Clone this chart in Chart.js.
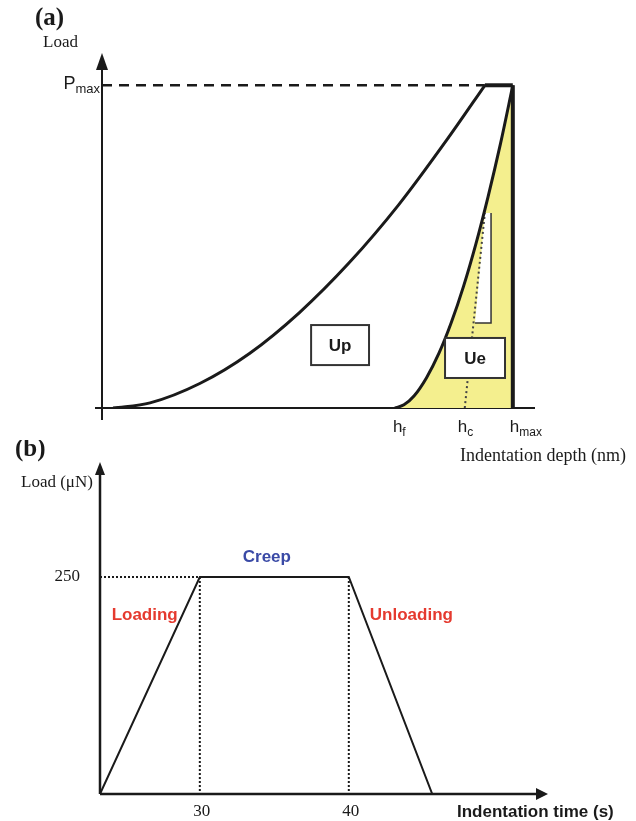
<!DOCTYPE html>
<html>
<head>
<meta charset="utf-8">
<script src="https://cdn.jsdelivr.net/npm/chart.js@4.4.0/dist/chart.umd.min.js"></script>
<style>
  body { margin: 0; background: #fff; width: 636px; height: 821px; overflow: hidden; position: relative; }
  canvas { position: absolute; left: 0; }
  #chartA { top: 0; }
  #chartB { top: 440px; }
</style>
</head>
<body>
<canvas id="chartA" width="636" height="470"></canvas>
<canvas id="chartB" width="636" height="381"></canvas>
<script>
// ── (a) data: depth in % of h_max, load in % of Pmax ──────────
const loadDepth   = [2.7, 11.7, 23.8, 35.9, 48.0, 60.1, 72.3, 84.4, 93.2];
const loadLoad    = [0, 1.6, 7.6, 16.9, 29.5, 44.9, 63.1, 83.9, 100];
const holdDepth   = [93.2, 100];
const holdLoad    = [100, 100];
const unloadDepth = [100, 97, 94, 91, 88, 85, 82, 79, 76, 73.5, 71.3];
const unloadLoad  = [100, 81.9, 65.6, 50.8, 37.7, 26.4, 16.9, 9.4, 3.8, 1.0, 0];
const tangentDepth = [88.3, 93.2];
const tangentLoad  = [0, 60.4];
const depthMarks  = [71.3, 88.3, 100];
const depthLabels = ['f', 'c', 'max'];   // subscripts of h
const pMax = 100;

// ── (b) data: load schedule ──────────────────────────────────
const timeVals   = [23.3, 30, 40, 45.6];
const loadVals   = [0, 250, 250, 0];
const timeTicks  = [30, 40];
const loadTicks  = [250];
const phaseNames = ['Loading', 'Creep', 'Unloading'];
const phaseTime  = [26.3, 34.5, 44.2];
const phaseLoad  = [206, 273, 206];
const phaseColor = ['#e53a2f', '#3a4aa6', '#e53a2f'];

const pts = (xs, ys) => xs.map((x, i) => ({ x, y: ys[i] }));
const SERIF = '"Liberation Serif", "DejaVu Serif", serif';
const SANS  = '"Liberation Sans", Arial, sans-serif';
const INK = '#1a1a1a';

function subText(ctx, base, sub, x, y, size, subSize, align) {
  ctx.font = `${size}px ${SANS}`;
  const bw = ctx.measureText(base).width;
  ctx.font = `${subSize}px ${SANS}`;
  const sw = ctx.measureText(sub).width;
  const x0 = align === 'right' ? x - bw - sw : x;
  ctx.textAlign = 'left';
  ctx.textBaseline = 'alphabetic';
  ctx.font = `${size}px ${SANS}`;
  ctx.fillText(base, x0, y);
  ctx.font = `${subSize}px ${SANS}`;
  ctx.fillText(sub, x0 + bw, y + 4);
}

function arrow(ctx, tx, ty, dir, len, half) {
  ctx.beginPath();
  ctx.moveTo(tx, ty);
  if (dir === 'up') { ctx.lineTo(tx - half, ty + len); ctx.lineTo(tx + half, ty + len); }
  else { ctx.lineTo(tx - len, ty - half); ctx.lineTo(tx - len, ty + half); }
  ctx.closePath();
  ctx.fill();
}

// ── (a) Load–depth chart ─────────────────────────────────────
const panelA = {
  id: 'panelA',
  beforeDatasetsDraw(chart) {
    const { ctx, scales: { x, y } } = chart;
    const x0 = x.getPixelForValue(0), y0 = y.getPixelForValue(0);
    ctx.save();
    ctx.strokeStyle = INK; ctx.fillStyle = INK;
    ctx.lineWidth = 2;
    ctx.beginPath(); ctx.moveTo(x0 - 7, y0); ctx.lineTo(x.right, y0); ctx.stroke();
    ctx.beginPath(); ctx.moveTo(x0, y0 + 12); ctx.lineTo(x0, y.top + 10); ctx.stroke();
    arrow(ctx, x0, y.top, 'up', 17, 6);
    ctx.restore();
  },
  afterDatasetDraw(chart, args) {
    if (args.index !== 0) return;
    // white sliver cut out of the elastic area
    const { ctx, scales: { x, y } } = chart;
    const sx = [93.2, 94.7, 94.7, 90.8], sy = [60.4, 60.4, 26.3, 26.3];
    ctx.save();
    ctx.fillStyle = '#fff';
    ctx.beginPath();
    sx.forEach((v, i) => ctx[i ? 'lineTo' : 'moveTo'](x.getPixelForValue(v), y.getPixelForValue(sy[i])));
    ctx.closePath(); ctx.fill();
    ctx.strokeStyle = '#333'; ctx.lineWidth = 1.5;
    ctx.beginPath();
    ctx.moveTo(x.getPixelForValue(sx[1]), y.getPixelForValue(sy[1]));
    ctx.lineTo(x.getPixelForValue(sx[2]), y.getPixelForValue(sy[2]));
    ctx.lineTo(x.getPixelForValue(sx[3]), y.getPixelForValue(sy[3]));
    ctx.stroke();
    ctx.restore();
  },
  afterDraw(chart) {
    const { ctx, scales: { x, y } } = chart;
    ctx.save();
    ctx.fillStyle = INK;
    // energy boxes
    [['Up', 50.9, 65.0, 25.7, 13.3], ['Ue', 83.5, 98.1, 21.7, 9.3]].forEach(([t, a, b, c, d]) => {
      const l = x.getPixelForValue(a), r = x.getPixelForValue(b);
      const tp = y.getPixelForValue(c), bt = y.getPixelForValue(d);
      ctx.fillStyle = '#fff'; ctx.fillRect(l, tp, r - l, bt - tp);
      ctx.strokeStyle = '#333'; ctx.lineWidth = 2; ctx.strokeRect(l, tp, r - l, bt - tp);
      ctx.fillStyle = INK; ctx.font = `bold 17px ${SANS}`;
      ctx.textAlign = 'center'; ctx.textBaseline = 'middle';
      ctx.fillText(t, (l + r) / 2, (tp + bt) / 2 + 1);
    });
    // labels
    ctx.textBaseline = 'alphabetic'; ctx.textAlign = 'left';
    ctx.font = `bold 25px ${SERIF}`;
    ctx.fillText('(a)', 35, 25);
    ctx.font = `17px ${SERIF}`;
    ctx.fillText('Load', 43, 47);
    subText(ctx, 'P', 'max', x.getPixelForValue(0) - 2, y.getPixelForValue(pMax) + 4, 18, 13, 'right');
    const offs = [-2, -7, -3];
    depthMarks.forEach((d, i) => subText(ctx, 'h', depthLabels[i], x.getPixelForValue(d) + offs[i], 432, 17, 12, 'left'));
    ctx.font = `18px ${SERIF}`;
    ctx.fillText('Indentation depth (nm)', 460, 461);
    ctx.restore();
  }
};

new Chart(document.getElementById('chartA'), {
  type: 'scatter',
  data: {
    datasets: [
      { // elastic area under the unloading curve
        data: pts(unloadDepth, unloadLoad), showLine: true, fill: 'origin',
        backgroundColor: '#f4ef8e', borderWidth: 0, pointRadius: 0,
        cubicInterpolationMode: 'monotone', order: 9 },
      { data: pts(tangentDepth, tangentLoad), showLine: true, borderColor: '#444',
        borderWidth: 2, borderDash: [2, 3], pointRadius: 0, order: 8 },
      { data: pts(unloadDepth, unloadLoad), showLine: true, borderColor: INK,
        borderWidth: 3, pointRadius: 0, cubicInterpolationMode: 'monotone', order: 3 },
      { data: pts(loadDepth, loadLoad), showLine: true, borderColor: INK,
        borderWidth: 3, pointRadius: 0, cubicInterpolationMode: 'monotone', order: 2 },
      { data: pts(holdDepth, holdLoad), showLine: true, borderColor: INK,
        borderWidth: 4, pointRadius: 0, order: 1 },
      { data: pts([100, 100], [100, 0]), showLine: true, borderColor: INK,
        borderWidth: 4, pointRadius: 0, order: 1 },
      { data: pts([0, holdDepth[0]], [pMax, pMax]), showLine: true, borderColor: INK,
        borderWidth: 2.5, borderDash: [10, 7], pointRadius: 0, order: 4 }
    ]
  },
  options: {
    responsive: false,
    animation: false,
    devicePixelRatio: 1,
    layout: { padding: { left: 102, right: 101, top: 53, bottom: 62 } },
    plugins: { legend: { display: false }, tooltip: { enabled: false } },
    scales: {
      x: { type: 'linear', min: 0, max: 105.4, display: false },
      y: { type: 'linear', min: 0, max: 110, display: false }
    }
  },
  plugins: [panelA]
});

// ── (b) Load schedule chart ──────────────────────────────────
const panelB = {
  id: 'panelB',
  beforeDatasetsDraw(chart) {
    const { ctx, scales: { x, y } } = chart;
    const x0 = x.left, y0 = y.getPixelForValue(0);
    ctx.save();
    ctx.strokeStyle = INK; ctx.fillStyle = INK; ctx.lineWidth = 2.5;
    ctx.beginPath(); ctx.moveTo(x0, y0); ctx.lineTo(x0, y.top + 8); ctx.stroke();
    arrow(ctx, x0, y.top, 'up', 13, 5);
    ctx.beginPath(); ctx.moveTo(x0, y0); ctx.lineTo(x.right - 8, y0); ctx.stroke();
    arrow(ctx, x.right, y0, 'right', 12, 6);
    ctx.restore();
  },
  afterDraw(chart) {
    const { ctx, scales: { x, y } } = chart;
    ctx.save();
    ctx.fillStyle = INK;
    ctx.textBaseline = 'alphabetic'; ctx.textAlign = 'left';
    ctx.font = `bold 25px ${SERIF}`;
    ctx.fillText('(b)', 15, 16);
    ctx.font = `17px ${SERIF}`;
    ctx.textBaseline = 'middle';
    ctx.fillText('Load (\u03bcN)', 21, 43);
    ctx.textAlign = 'right';
    loadTicks.forEach(v => ctx.fillText(String(v), 80, y.getPixelForValue(v)));
    ctx.textAlign = 'center';
    timeTicks.forEach(v => ctx.fillText(String(v), x.getPixelForValue(v) + 2, 372));
    ctx.textAlign = 'left';
    ctx.font = `bold 17px ${SANS}`;
    ctx.fillText('Indentation time (s)', 457, 372);
    ctx.textAlign = 'center';
    phaseNames.forEach((n, i) => {
      ctx.fillStyle = phaseColor[i];
      ctx.fillText(n, x.getPixelForValue(phaseTime[i]), y.getPixelForValue(phaseLoad[i]));
    });
    ctx.restore();
  }
};

const dotted = { showLine: true, borderColor: INK, borderWidth: 2, borderDash: [2, 2], pointRadius: 0 };

new Chart(document.getElementById('chartB'), {
  type: 'scatter',
  data: {
    datasets: [
      { data: pts(timeVals, loadVals), showLine: true, borderColor: INK,
        borderWidth: 2, pointRadius: 0, tension: 0 },
      { ...dotted, data: pts([timeVals[0], timeVals[1]], [loadTicks[0], loadTicks[0]]) },
      { ...dotted, data: pts([timeTicks[0], timeTicks[0]], [loadTicks[0], 0]) },
      { ...dotted, data: pts([timeTicks[1], timeTicks[1]], [loadTicks[0], 0]) }
    ]
  },
  options: {
    responsive: false,
    animation: false,
    devicePixelRatio: 1,
    layout: { padding: { left: 100, right: 88, top: 22, bottom: 27 } },
    plugins: { legend: { display: false }, tooltip: { enabled: false } },
    scales: {
      x: { type: 'linear', min: 23.3, max: 53.37, display: false },
      y: { type: 'linear', min: 0, max: 382.5, display: false }
    }
  },
  plugins: [panelB]
});
</script>
</body>
</html>
